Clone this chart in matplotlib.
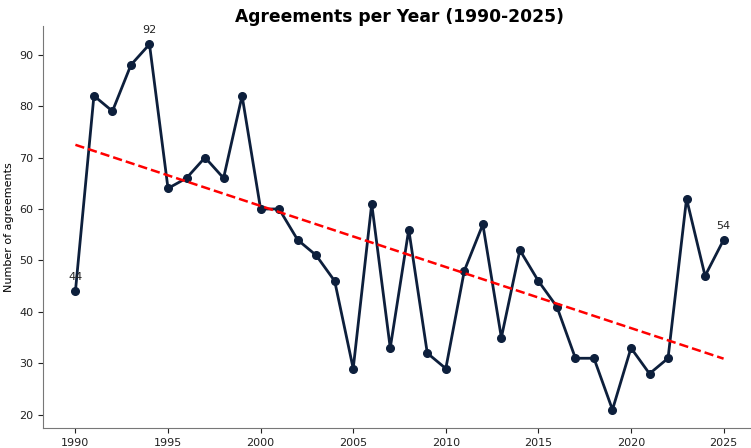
import matplotlib
matplotlib.use("Agg")
import matplotlib.pyplot as plt
import numpy as np

years = np.arange(1990, 2026)
agreements = np.array([44, 82, 79, 88, 92, 64, 66, 70, 66, 82,
                       60, 60, 54, 51, 46, 29, 61, 33, 56, 32,
                       29, 48, 57, 35, 52, 46, 41, 31, 31, 21,
                       33, 28, 31, 62, 47, 54])

fig = plt.figure(figsize=(7.51, 4.48), dpi=100)
ax = fig.add_axes([43/751, 20/448, 713/751, 402/448])

navy = "#0d1f3c"
ax.plot(years, agreements, "-o", color=navy, lw=2, ms=5.5)

# linear trend
coef = np.polyfit(years, agreements, 1)
ax.plot(years, np.polyval(coef, years), "--", color="red", lw=1.8)

# label first, peak and last
for i in [0, int(np.argmax(agreements)), len(years) - 1]:
    ax.annotate(str(agreements[i]), (years[i], agreements[i]),
                textcoords="offset points", xytext=(0, 8), ha="center",
                fontsize=8, color="#222222")

ax.set_xticks(np.arange(1990, 2026, 5))
ax.tick_params(labelsize=8, colors="#222222")
ax.set_ylabel("Number of agreements", fontsize=8)
ax.spines["top"].set_visible(False)
ax.spines["right"].set_visible(False)
for s in ["left", "bottom"]:
    ax.spines[s].set_color("#777777")
ax.set_title("Agreements per Year (1990-2025)", fontsize=12.3, fontweight="bold", pad=3)

fig.savefig("out.png", dpi=100)
